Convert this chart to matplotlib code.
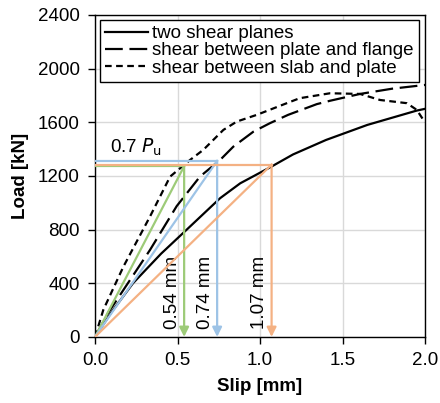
import matplotlib
matplotlib.use("Agg")
import matplotlib.pyplot as plt

plt.rcParams["font.family"] = ["Liberation Sans", "DejaVu Sans"]

# load-slip curves
slip_two = [0.0, 0.1, 0.23, 0.4, 0.556, 0.758, 0.88, 1.07, 1.2, 1.4, 1.65, 1.95, 2.0]
load_two = [0, 185, 400, 620, 800, 1034, 1145, 1270, 1360, 1468, 1580, 1687, 1700]

slip_flange = [0.0, 0.08, 0.172, 0.333, 0.495, 0.636, 0.758, 0.838, 0.96, 1.06, 1.17,
               1.344, 1.424, 1.606, 1.8, 2.0]
load_flange = [0, 180, 350, 648, 975, 1195, 1319, 1418, 1530, 1593, 1655,
               1735, 1760, 1811, 1850, 1878]

slip_slab = [0.0, 0.05, 0.172, 0.333, 0.455, 0.576, 0.656, 0.778, 0.859, 0.98, 1.162,
             1.24, 1.424, 1.606, 1.727, 1.89, 1.95, 1.99, 2.0]
load_slab = [0, 201, 524, 897, 1195, 1319, 1394, 1543, 1605, 1655, 1742,
             1779, 1816, 1811, 1766, 1742, 1692, 1617, 1600]

# secant stiffness at 0.7 Pu
sec_slip = [0.54, 0.74, 1.07]
sec_load = [1272, 1312, 1284]
sec_color = ["#9DCB78", "#9DC3E6", "#F4B183"]
sec_label = ["0.54 mm", "0.74 mm", "1.07 mm"]

fig, ax = plt.subplots(figsize=(4.4, 4.03), dpi=100)
fig.subplots_adjust(left=0.216, right=0.966, bottom=0.164, top=0.963)

FS = 13.5

for s, p, c, lab in zip(sec_slip, sec_load, sec_color, sec_label):
    ax.plot([0, s], [0, p], color=c, lw=1.6, zorder=4)
    ax.plot([0, s], [p, p], color=c, lw=1.6, zorder=4)
    ax.annotate("", xy=(s, 0), xytext=(s, p),
                arrowprops=dict(arrowstyle="-|>", color=c, lw=1.6,
                                mutation_scale=14, shrinkA=0, shrinkB=0), zorder=4)
    ax.text(s - 0.072, 60, lab, rotation=90, ha="center", va="bottom", fontsize=FS)

ax.plot(slip_two, load_two, color="black", lw=1.6, label="two shear planes", zorder=3)
ax.plot(slip_flange, load_flange, color="black", lw=1.6, dashes=(8, 3),
        label="shear between plate and flange", zorder=3)
ax.plot(slip_slab, load_slab, color="black", lw=1.6, dashes=(3, 2),
        label="shear between slab and plate", zorder=3)

ax.text(0.09, 1330, "0.7 $P_\\mathrm{u}$", fontsize=FS, ha="left", va="bottom")

ax.set_xlim(0, 2.0)
ax.set_ylim(0, 2400)
ax.set_xticks([0.0, 0.5, 1.0, 1.5, 2.0])
ax.set_xticklabels(["0.0", "0.5", "1.0", "1.5", "2.0"])
ax.set_yticks(range(0, 2401, 400))
ax.tick_params(labelsize=FS, direction="out", length=5, width=1, pad=6)
ax.grid(True, color="#d9d9d9", lw=1)
ax.set_axisbelow(True)
for sp in ax.spines.values():
    sp.set_linewidth(1)
ax.set_xlabel("Slip [mm]", fontsize=FS, fontweight="bold", labelpad=6)
ax.set_ylabel("Load [kN]", fontsize=FS, fontweight="bold", labelpad=6)

leg = ax.legend(loc="upper left", fontsize=FS, handlelength=2.3, handletextpad=0.2,
                borderpad=0.3, labelspacing=0.0, borderaxespad=0.25, fancybox=False,
                framealpha=1)
leg.get_frame().set_edgecolor("black")
leg.get_frame().set_linewidth(1)

fig.savefig("out.png", dpi=100)
